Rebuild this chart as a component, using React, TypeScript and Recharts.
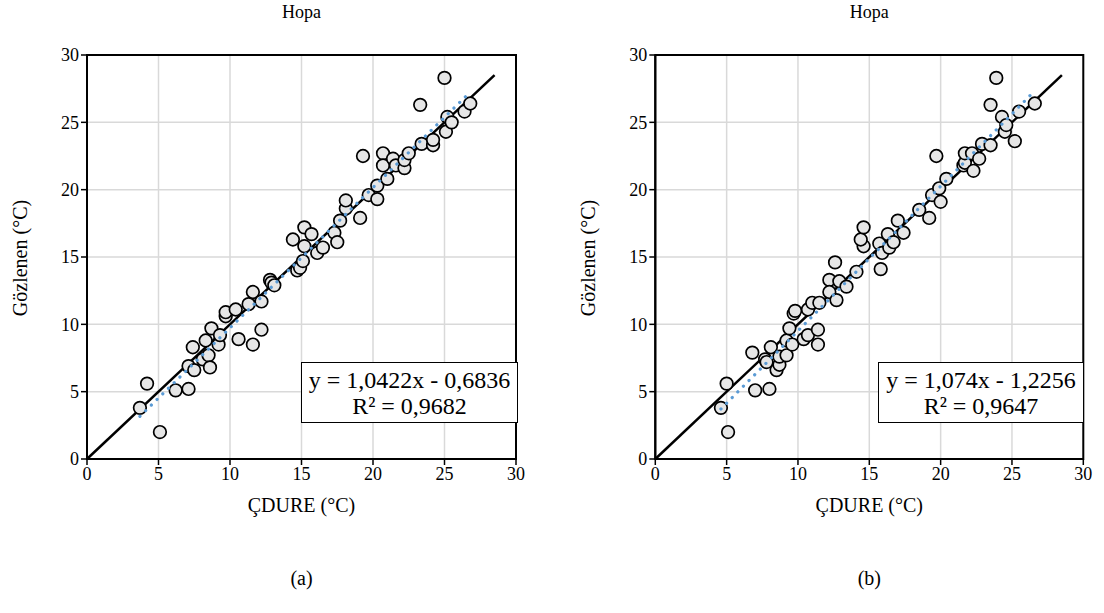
import React from 'react';
import { ScatterChart, Scatter, XAxis, YAxis, CartesianGrid, ReferenceArea } from 'recharts';

const axisTicks = [0, 5, 10, 15, 20, 25, 30];

// (a) ÇDURE vs Gözlenen
const pointsA: [number, number][] = [
  [3.7, 3.8], [4.2, 5.6], [5.1, 2.0], [6.2, 5.1], [7.1, 5.2], [7.1, 6.9], [7.4, 8.3], [7.5, 6.6],
  [8.1, 7.4], [8.3, 8.8], [8.5, 7.7], [8.6, 6.8], [8.7, 9.7], [9.2, 8.5], [9.3, 9.2], [9.7, 10.6],
  [9.7, 10.9], [10.4, 11.1], [10.6, 8.9], [11.3, 11.5], [11.6, 8.5], [11.6, 12.4], [12.2, 11.7],
  [12.2, 9.6], [12.8, 13.3], [12.9, 13.1], [13.1, 12.9], [14.4, 16.3], [14.7, 14.0], [14.9, 14.2],
  [15.1, 14.7], [15.2, 17.2], [15.2, 15.8], [15.7, 16.7], [16.1, 15.3], [16.5, 15.7], [17.3, 16.8],
  [17.5, 16.1], [17.7, 17.7], [18.1, 18.6], [18.1, 19.2], [19.3, 22.5], [19.1, 17.9], [19.7, 19.6],
  [20.3, 20.3], [20.3, 19.3], [20.7, 22.7], [20.7, 21.8], [21.0, 20.8], [21.4, 22.3], [21.6, 21.8],
  [22.2, 21.6], [22.2, 22.2], [22.5, 22.7], [23.4, 23.4], [23.3, 26.3], [24.2, 23.3], [24.2, 23.7],
  [25.0, 28.3], [25.1, 24.3], [25.2, 25.4], [25.5, 25.0], [26.4, 25.8], [26.8, 26.4],
];

// (b)
const pointsB: [number, number][] = [
  [4.6, 3.8], [5.0, 5.6], [5.1, 2.0], [6.8, 7.9], [7.0, 5.1], [8.0, 5.2], [7.7, 7.4], [7.8, 7.2],
  [8.1, 8.3], [8.5, 6.6], [8.7, 7.0], [8.7, 7.6], [9.2, 7.7], [9.2, 8.8], [9.6, 8.5], [9.4, 9.7],
  [9.7, 10.8], [9.8, 11.0], [10.4, 8.9], [10.7, 9.2], [10.7, 11.1], [11.4, 9.6], [11.4, 8.5],
  [11.0, 11.6], [11.5, 11.6], [12.2, 13.3], [12.2, 12.4], [12.6, 14.6], [12.7, 11.8], [12.9, 13.2],
  [13.4, 12.8], [14.1, 13.9], [14.6, 15.8], [14.4, 16.3], [14.6, 17.2], [15.8, 14.1], [15.7, 16.0],
  [15.9, 15.3], [16.3, 16.7], [16.4, 15.7], [16.7, 16.1], [17.0, 17.7], [17.4, 16.8], [18.5, 18.5],
  [19.2, 17.9], [19.4, 19.6], [19.7, 22.5], [19.9, 20.1], [20.0, 19.1], [20.4, 20.8], [21.6, 21.8],
  [21.7, 22.0], [21.7, 22.7], [22.2, 22.7], [22.3, 21.4], [22.7, 22.3], [22.9, 23.4], [23.5, 23.3],
  [23.5, 26.3], [23.9, 28.3], [24.3, 25.4], [24.5, 24.3], [24.6, 24.8], [25.2, 23.6], [25.5, 25.8],
  [26.6, 26.4],
];

const fitA = { slope: 1.0422, intercept: -0.6836, eq: 'y = 1,0422x - 0,6836', r2: 'R² = 0,9682' };
const fitB = { slope: 1.074, intercept: -1.2256, eq: 'y = 1,074x - 1,2256', r2: 'R² = 0,9647' };

const identityLine = [{ x: 0, y: 0 }, { x: 28.5, y: 28.5 }];

const FONT = '"Liberation Serif", "Times New Roman", serif';

const Dot = (p: any) => (
  <circle cx={p.cx} cy={p.cy} r={6.3} fill="#e6e6e6" stroke="#000" strokeWidth={1.7} />
);
const NoDot = () => <g />;

type PanelProps = {
  points: [number, number][];
  fit: typeof fitA;
  left: number;
  marginLeft: number;
  marginRight: number;
  tag: string;
  boxLeft: number;
  boxWidth: number;
};

const Panel = ({ points, fit, left, marginLeft, marginRight, tag, boxLeft, boxWidth }: PanelProps) => {
  const data = points.map(([x, y]) => ({ x, y }));
  const xs = points.map((p) => p[0]);
  const xMin = Math.min(...xs);
  const xMax = Math.max(...xs);
  const trend = [
    { x: xMin, y: fit.slope * xMin + fit.intercept },
    { x: xMax, y: fit.slope * xMax + fit.intercept },
  ];
  const plotLeft = marginLeft + 60;
  const plotRight = 552 - marginRight;
  const cx = (plotLeft + plotRight) / 2;

  return (
    <div style={{ position: 'absolute', left, top: 0, width: 552, height: 613, fontFamily: FONT, color: '#000' }}>
      <ScatterChart width={552} height={613} margin={{ top: 55, right: marginRight, bottom: 124, left: marginLeft }}>
        <CartesianGrid stroke="#d9d9d9" strokeWidth={1.5} />
        <XAxis
          type="number"
          dataKey="x"
          domain={[0, 30]}
          ticks={axisTicks}
          height={30}
          axisLine={{ stroke: '#000', strokeWidth: 2 }}
          tickLine={{ stroke: '#000', strokeWidth: 1.5 }}
          tickSize={6}
          tick={{ fill: '#000', fontSize: 18, fontFamily: FONT }}
        />
        <YAxis
          type="number"
          dataKey="y"
          domain={[0, 30]}
          ticks={axisTicks}
          width={60}
          axisLine={{ stroke: '#000', strokeWidth: 2 }}
          tickLine={{ stroke: '#000', strokeWidth: 1.5 }}
          tickSize={6}
          tick={{ fill: '#000', fontSize: 18, fontFamily: FONT }}
        />
        <Scatter data={identityLine} line={{ stroke: '#000', strokeWidth: 2.5 }} shape={NoDot} isAnimationActive={false} />
        <Scatter data={data} shape={Dot} isAnimationActive={false} />
        <Scatter
          data={trend}
          line={{ stroke: '#5b9bd5', strokeWidth: 3.2, strokeDasharray: '0.1 7.9', strokeLinecap: 'round' }}
          shape={NoDot}
          isAnimationActive={false}
        />
        <ReferenceArea x1={0} x2={30} y1={0} y2={30} fill="none" fillOpacity={0} stroke="#000" strokeWidth={2} />
      </ScatterChart>

      <div style={{ position: 'absolute', left: cx - 60, width: 120, top: 2, textAlign: 'center', fontSize: 18 }}>Hopa</div>
      <div style={{ position: 'absolute', left: cx - 100, width: 200, top: 494, textAlign: 'center', fontSize: 20 }}>ÇDURE (°C)</div>
      <div style={{ position: 'absolute', left: cx - 50, width: 100, top: 567, textAlign: 'center', fontSize: 20 }}>{tag}</div>
      <div
        style={{
          position: 'absolute',
          left: plotLeft - 67 - 100,
          top: 258 - 12,
          width: 200,
          height: 24,
          textAlign: 'center',
          fontSize: 20,
          lineHeight: '24px',
          transform: 'rotate(-90deg)',
        }}
      >
        Gözlenen (°C)
      </div>
      <div
        style={{
          position: 'absolute',
          left: boxLeft,
          top: 362,
          width: boxWidth,
          height: 61,
          boxSizing: 'border-box',
          border: '1.5px solid #000',
          background: '#fff',
          textAlign: 'center',
          fontSize: 24,
          lineHeight: '26px',
          paddingTop: 4,
        }}
      >
        <div>{fit.eq}</div>
        <div>{fit.r2}</div>
      </div>
    </div>
  );
};

export default function App() {
  return (
    <div style={{ position: 'absolute', left: 0, top: 0, width: 1104, height: 613, background: '#fff' }}>
      <Panel points={pointsA} fit={fitA} left={0} marginLeft={27} marginRight={36} tag="(a)" boxLeft={301} boxWidth={217} />
      <Panel points={pointsB} fit={fitB} left={552} marginLeft={43.3} marginRight={20.7} tag="(b)" boxLeft={878 - 552} boxWidth={206} />
    </div>
  );
}
